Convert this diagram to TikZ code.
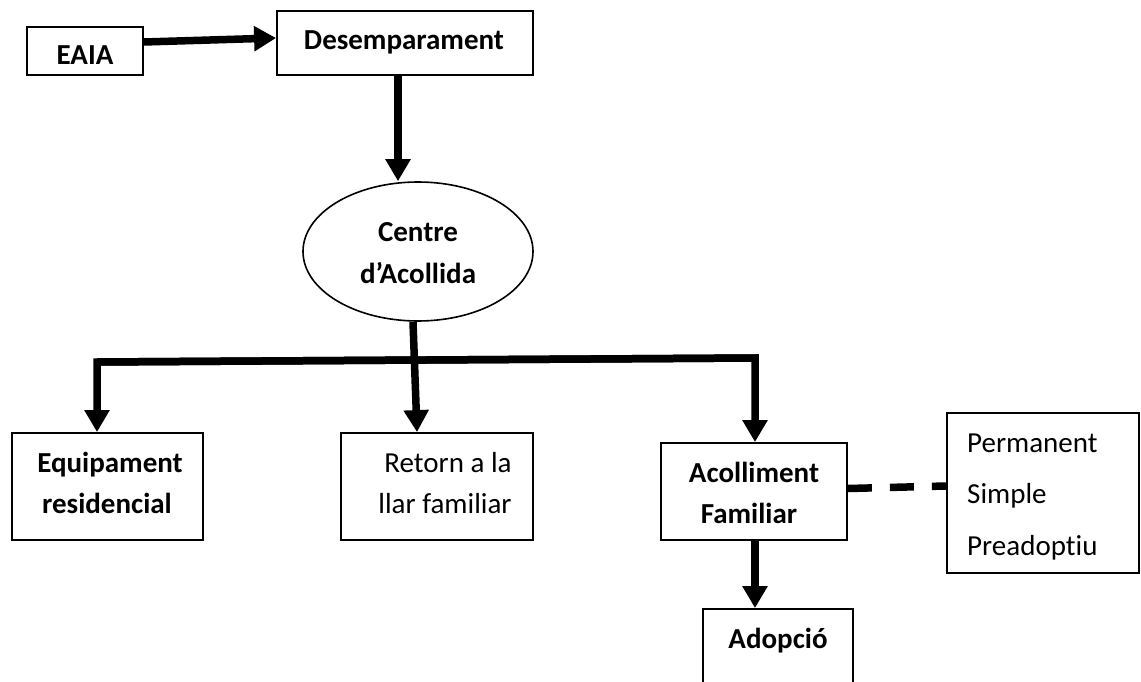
\documentclass[tikz,border=0pt]{standalone}
\usepackage{fontspec}
\setmainfont{Carlito}[Ligatures=NoCommon]
\usetikzlibrary{arrows.meta,shapes.geometric}
\newcommand\dgsize{\fontsize{29}{34}\selectfont}
\begin{document}
\begin{tikzpicture}[x=1pt,y=-1pt,
  box/.style={draw,line width=1.8pt,rectangle,inner sep=0},
  oval/.style={draw,line width=1.6pt,ellipse,inner sep=0},
  bold/.style={anchor=base,inner sep=0,font=\dgsize\bfseries},
  light/.style={anchor=base,inner sep=0,font=\dgsize},
  arr/.style={line width=7.5pt,-{Triangle[length=22pt,width=24pt]}},
  dashline/.style={line width=7.5pt,dash pattern=on 24pt off 18pt}]
\useasboundingbox (0,0) rectangle (1141,682);
\fill[white] (0,0) rectangle (1141,682);
\clip (0,0) rectangle (1141,682);

% boxes
\node[box,minimum width=116,minimum height=48] (eaia) at (85,51) {};
\node[box,minimum width=256,minimum height=64] (des) at (405,43) {};
\node[oval,minimum width=230,minimum height=139] (cen) at (418,251.5) {};
\node[box,minimum width=191,minimum height=107] (equip) at (107.5,486.5) {};
\node[box,minimum width=192,minimum height=107] (ret) at (437,486.5) {};
\node[box,minimum width=186,minimum height=97] (acol) at (754,491.5) {};
\node[box,minimum width=192,minimum height=160] (opts) at (1043,493) {};
\node[box,minimum width=150,minimum height=112] (adop) at (778,665) {};

% labels
\node[bold] (eaiaT) at (85,65) {EAIA};
\node[bold] (desT) at (404,50) {Desemparament};
\node[bold] (cenT1) at (418,241) {Centre};
\node[bold] (cenT2) at (418,283) {d’Acollida};
\node[bold] (equipT1) at (110,472) {Equipament};
\node[bold] (equipT2) at (107,513) {residencial};
\node[light] (retT1) at (448,472) {Retorn a la};
\node[light] (retT2) at (445,513) {llar familiar};
\node[bold] (acolT1) at (754,482) {Acolliment};
\node[bold] (acolT2) at (749,523) {Familiar};
\node[bold] (adopT) at (778,648) {Adopció};
\node[light,anchor=base west] (optT1) at (967,452) {Permanent};
\node[light,anchor=base west] (optT2) at (967,503) {Simple};
\node[light,anchor=base west] (optT3) at (967,555) {Preadoptiu};

% branch corners
\coordinate (barL) at (97,362);
\coordinate (barR) at (755,358);

% connectors
\draw[arr] ([yshift=9pt]eaia.east) -- ([yshift=5pt]des.west);
\draw[arr] ([xshift=-7pt]des.south) -- ([xshift=-7pt]des.south |- cen.north);
\draw[arr] ([xshift=-5pt]cen.south) -- ([xshift=-20pt]ret.north);
\draw[arr] (barR) -- (barL) -- ([xshift=-10.5pt]equip.north);
\draw[arr] (barL) -- (barR) -- ([xshift=1pt]acol.north);
\draw[arr] ([xshift=1pt]acol.south) -- ([xshift=1pt]acol.south |- adop.north);
\draw[dashline] ([yshift=3pt]acol.east) -- ([yshift=7pt]opts.west);
\end{tikzpicture}
\end{document}
